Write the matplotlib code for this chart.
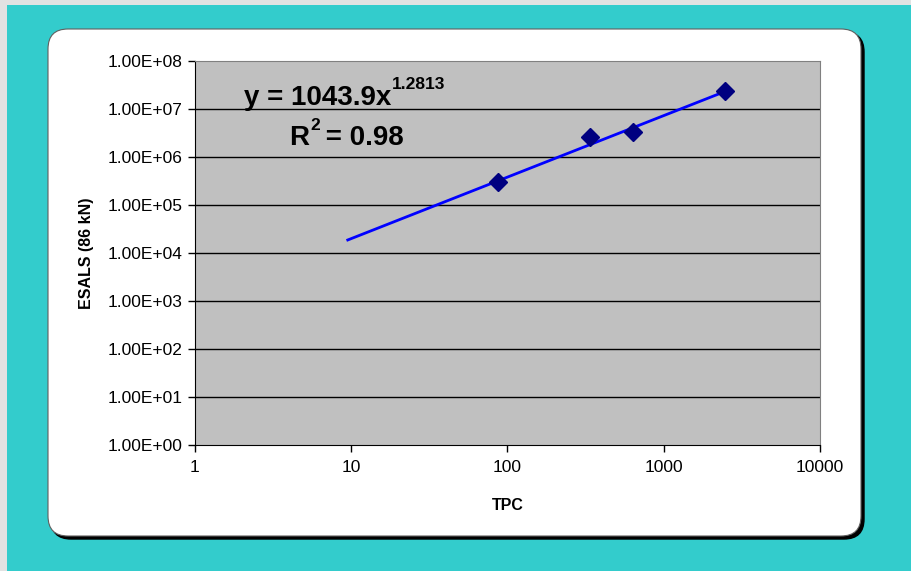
import numpy as np
import matplotlib
matplotlib.use('Agg')
import matplotlib.pyplot as plt
from matplotlib.patches import FancyBboxPatch, Rectangle
from matplotlib.transforms import IdentityTransform

plt.rcParams['font.family'] = ['Liberation Sans', 'DejaVu Sans']

# data
tpc = [87, 337, 635, 2470]
esals = [3.0e5, 2.6e6, 3.3e6, 2.37e7]

# power trendline shown on the chart
coef = 1043.9
expo = 1.2813
trend_start = 9.5

y_ticks = [1e0, 1e1, 1e2, 1e3, 1e4, 1e5, 1e6, 1e7, 1e8]
y_labels = ['1.00E+00', '1.00E+01', '1.00E+02', '1.00E+03', '1.00E+04',
            '1.00E+05', '1.00E+06', '1.00E+07', '1.00E+08']
x_ticks = [1, 10, 100, 1000, 10000]
x_labels = ['1', '10', '100', '1000', '10000']

W, H = 912, 571
fig = plt.figure(figsize=(W / 100, H / 100), dpi=100)
fig.patch.set_facecolor('#E2E2E2')

# teal background
fig.add_artist(Rectangle((7, 0), W - 7, H - 5, transform=IdentityTransform(),
                         facecolor='#33CCCC', edgecolor='none', zorder=0))
# shadow + white rounded panel
fig.add_artist(FancyBboxPatch((51, 32), 813, 507, boxstyle='round,pad=0,rounding_size=20',
                              transform=IdentityTransform(), facecolor='black',
                              edgecolor='black', zorder=1))
fig.add_artist(FancyBboxPatch((48, 35), 813, 507, boxstyle='round,pad=0,rounding_size=20',
                              transform=IdentityTransform(), facecolor='white',
                              edgecolor='#606060', lw=0.8, zorder=2))

ax = fig.add_axes([195 / W, (H - 445) / H, 625 / W, 384 / H], zorder=3)
ax.set_facecolor('#C0C0C0')
ax.set_xscale('log')
ax.set_yscale('log')
ax.set_xlim(1, 10000)
ax.set_ylim(1, 1e8)

for yt in y_ticks[1:-1]:
    ax.axhline(yt, color='black', lw=1, zorder=1)

xs = np.geomspace(trend_start, max(tpc), 50)
ax.plot(xs, coef * xs ** expo, color='#0000FF', lw=2, zorder=3)
ax.plot(tpc, esals, linestyle='none', marker='D', markersize=9,
        color='#000080', zorder=4)

ax.set_yticks(y_ticks)
ax.set_yticklabels(y_labels)
ax.set_xticks(x_ticks)
ax.set_xticklabels(x_labels)
ax.minorticks_off()
ax.tick_params(axis='both', direction='out', length=5, width=1, color='black',
               labelsize=12.5, pad=4)
ax.tick_params(axis='x', pad=6)

for s in ['top', 'right']:
    ax.spines[s].set_color('#808080')
for s in ['left', 'bottom']:
    ax.spines[s].set_color('black')

ax.set_xlabel('TPC', fontsize=11.5, fontweight='bold', labelpad=16)
ax.set_ylabel('ESALS (86 kN)', fontsize=11.5, fontweight='bold', labelpad=10)

# equation labels
tr = IdentityTransform()
fig.text(244, H - 105, 'y = 1043.9x', transform=tr, fontsize=20,
         fontweight='bold', va='baseline', ha='left', zorder=5)
fig.text(392, H - 89, '1.2813', transform=tr, fontsize=12.5, fontweight='bold',
         va='baseline', ha='left', zorder=5)
fig.text(289, H - 145, 'R', transform=tr, fontsize=20,
         fontweight='bold', va='baseline', ha='left', zorder=5)
fig.text(310, H - 130, '2', transform=tr, fontsize=12.5, fontweight='bold',
         va='baseline', ha='left', zorder=5)
fig.text(318, H - 145, ' = 0.98', transform=tr, fontsize=20,
         fontweight='bold', va='baseline', ha='left', zorder=5)

fig.savefig('out.png', dpi=100, facecolor=fig.get_facecolor())
